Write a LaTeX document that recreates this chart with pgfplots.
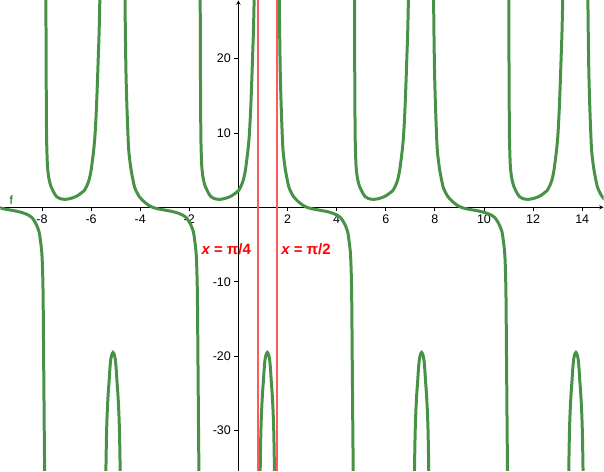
\documentclass[border=0pt]{standalone}
\usepackage{fontspec}
\setmainfont{Liberation Sans}
\usepackage{pgfplots}
\usepackage{pgfplotstable}
\pgfplotsset{compat=1.18}

\definecolor{ggreen}{RGB}{72,146,72}
\definecolor{gred}{RGB}{255,90,90}
\definecolor{gdark}{RGB}{0,100,0}

% one period of f, three branches
\pgfplotstableread{
x y
-1.562 40
-1.555 27.8
-1.545 18
-1.53 10
-1.51 7
-1.49 5.45
-1.45 4.2
-1.42 3.66
-1.35 2.8
-1.28 2.32
-1.2 1.8
-1.12 1.43
-1.0 1.2
-0.9 1.1
-0.77 1.07
-0.6 1.15
-0.41 1.34
-0.25 1.6
-0.13 1.88
0 2.23
0.1 2.8
0.2 3.66
0.28 4.9
0.34 6.35
0.4 8.0
0.45 10
0.5 13.2
0.54 16.6
0.58 20.5
0.61 23.4
0.64 27.8
0.67 34
0.69 40
}\branchU

\pgfplotstableread{
x y
0.873 -40
0.888 -35.3
0.913 -30.5
0.940 -27.7
0.978 -25.2
1.021 -23.2
1.048 -21.8
1.083 -20.5
1.128 -19.8
1.178 -19.5
1.228 -19.8
1.273 -20.5
1.308 -21.8
1.335 -23.2
1.378 -25.2
1.416 -27.7
1.443 -30.5
1.468 -35.3
1.483 -40
}\branchB

\pgfplotstableread{
x y
1.655 40
1.667 27.8
1.70 19
1.735 14.4
1.78 10.2
1.817 7.7
1.88 5.8
1.939 4.55
2.05 2.77
2.15 2.0
2.25 1.43
2.38 0.95
2.52 0.54
2.65 0.22
2.79 0
3.0 -0.2
3.27 -0.36
3.5 -0.5
3.7 -0.65
3.88 -0.85
4.02 -1.05
4.15 -1.35
4.25 -1.8
4.35 -2.4
4.45 -3.3
4.51 -4.6
4.57 -6.6
4.61 -11.1
4.635 -20.1
4.66 -30
4.675 -35.3
4.685 -40
}\branchC

\pgfplotsset{
  fcurve/.style={color=ggreen, line width=3pt, smooth},
  period/.style={x filter/.code={\pgfmathparse{\pgfmathresult+#1*6.2831853}}},
}

\begin{document}
\begin{tikzpicture}
\begin{axis}[
    scale only axis,
    width=604pt, height=471pt,
    xmin=-9.69, xmax=14.87,
    ymin=-35.4, ymax=27.8,
    axis lines=middle,
    axis line style={line width=0.9pt},
    xtick={-8,-6,-4,-2,2,4,6,8,10,12,14},
    ytick={-30,-20,-10,10,20},
    tick align=outside,
    major tick length=4pt,
    tick style={black, line width=0.8pt},
    tick label style={font=\fontsize{12.5}{14}\selectfont},
    /pgf/number format/assume math mode=true,
    title={f},
    every axis title/.style={at={(axis description cs:0.0179,0.5633)}, anchor=south, text=gdark, inner sep=1pt, font=\fontsize{12}{14}\selectfont},
    xlabel={\bfseries\itshape x\upshape\ = π/4},
    every axis x label/.style={at={(axis description cs:0.4157,0.4715)}, anchor=east, text=red, inner sep=0pt, font=\fontsize{15}{18}\selectfont\bfseries},
    ylabel={\bfseries\itshape x\upshape\ = π/2},
    every axis y label/.style={at={(axis description cs:0.4654,0.4715)}, anchor=west, text=red, inner sep=0pt, font=\fontsize{15}{18}\selectfont\bfseries},
]
\addplot[fcurve, period=-2] table {\branchC};
\addplot[fcurve, period=-1] table {\branchU};
\addplot[fcurve, period=-1] table {\branchB};
\addplot[fcurve, period=-1] table {\branchC};
\addplot[fcurve] table {\branchU};
\addplot[fcurve] table {\branchB};
\addplot[fcurve] table {\branchC};
\addplot[fcurve, period=1] table {\branchU};
\addplot[fcurve, period=1] table {\branchB};
\addplot[fcurve, period=1] table {\branchC};
\addplot[fcurve, period=2] table {\branchU};
\addplot[fcurve, period=2] table {\branchB};
\addplot[fcurve, period=2] table {\branchC};
\addplot[color=gred, line width=2pt] coordinates {(0.7854,-40) (0.7854,30)};
\addplot[color=gred, line width=2pt] coordinates {(1.5708,-40) (1.5708,30)};
\end{axis}
\end{tikzpicture}
\end{document}
